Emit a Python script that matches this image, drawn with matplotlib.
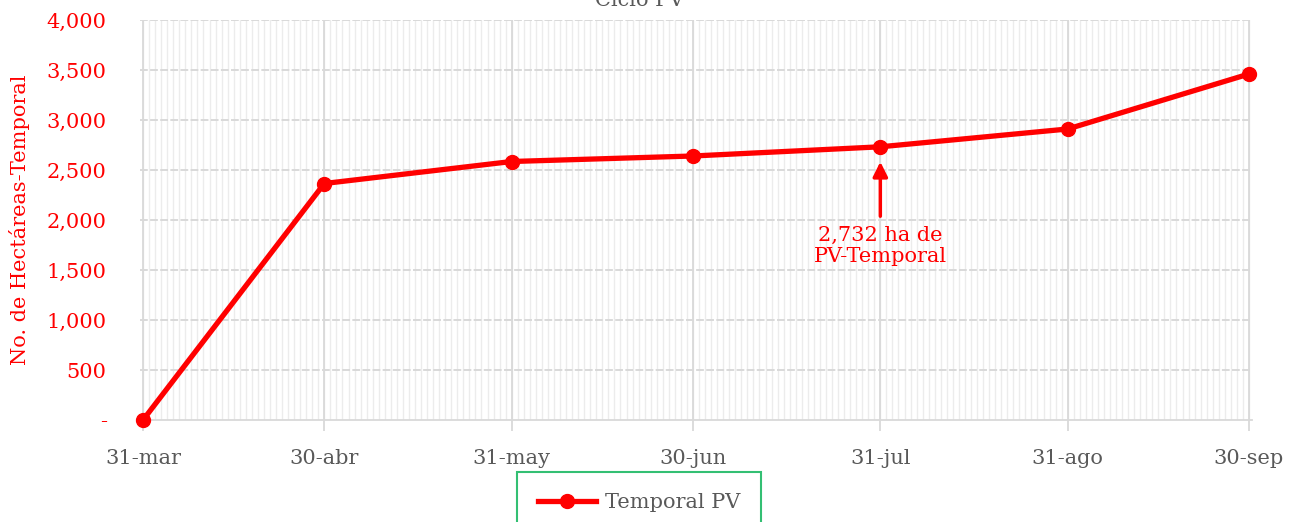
import matplotlib
matplotlib.use("Agg")
import matplotlib.pyplot as plt
import matplotlib.dates as mdates
import matplotlib.ticker as mticker
import numpy as np
import datetime as dt

plt.rcParams['font.family'] = ['DejaVu Serif']

# datos
fechas = ['2023-03-31', '2023-04-30', '2023-05-31', '2023-06-30',
          '2023-07-31', '2023-08-31', '2023-09-30']
etiquetas = ['31-mar', '30-abr', '31-may', '30-jun', '31-jul', '31-ago', '30-sep']
hectareas = [0, 2365, 2585, 2640, 2732, 2910, 3460]

x = [dt.datetime.strptime(f, '%Y-%m-%d') for f in fechas]
xn = mdates.date2num(x)

fig = plt.figure(figsize=(12.98, 5.22), dpi=100)
ax = fig.add_axes([140 / 1298, 102 / 522, 1112 / 1298, 400 / 522])

rojo = '#ff0000'
gris = '#595959'

# rejilla diaria
dias = np.arange(xn[0], xn[-1] + 1)
for d in dias:
    ax.axvline(d, color='#ececec', lw=1.0, zorder=0)
for d in xn:
    ax.axvline(d, color='#d9d9d9', lw=1.3, zorder=0.5)
for yv in range(500, 4001, 500):
    ax.axhline(yv, color='#d9d9d9', lw=1.4, ls=(0, (4, 1.2)), zorder=0.6)

ax.plot(xn, hectareas, color=rojo, lw=3.8, marker='o', markersize=10,
        label='Temporal PV', zorder=3, clip_on=False)

ax.set_xlim(xn[0] - 0.5, xn[-1] + 0.5)
ax.set_ylim(0, 4000)
ax.set_xticks(xn)
ax.set_xticklabels(etiquetas)
ax.set_yticks(range(0, 4001, 500))
ax.yaxis.set_major_formatter(mticker.FuncFormatter(
    lambda v, p: '-' if v == 0 else f'{int(v):,}'))

for s in ['top', 'right', 'left']:
    ax.spines[s].set_visible(False)
ax.spines['bottom'].set_color('#d9d9d9')
ax.spines['bottom'].set_linewidth(1.3)

ax.tick_params(axis='x', colors='#d9d9d9', length=8, width=1.3,
               labelcolor=gris, labelsize=15, pad=13)
ax.tick_params(axis='y', length=0, labelcolor=rojo, labelsize=15, pad=24)

ax.set_ylabel('No. de Hectáreas-Temporal', color=rojo, fontsize=15, labelpad=12)

fig.text(640 / 1298, 1.0, 'Ciclo PV', ha='center', va='center',
         fontsize=15, color=gris)

# anotación
ax.annotate('', xy=(xn[4], 2610), xytext=(xn[4], 2010),
            arrowprops=dict(arrowstyle='-|>', color=rojo, lw=2.5,
                            mutation_scale=22), zorder=4)
ax.text(xn[4], 1740, '2,732 ha de\nPV-Temporal', ha='center', va='center',
        color=rojo, fontsize=15, linespacing=1.15)

leg = ax.legend(loc='upper center', bbox_to_anchor=(499 / 1112, -0.13),
                frameon=True, fancybox=False, fontsize=15, borderaxespad=0,
                borderpad=1.0, handlelength=2.8, handletextpad=0.4)
leg.get_frame().set_edgecolor('#00b050')
leg.get_frame().set_linewidth(1.5)
for t in leg.get_texts():
    t.set_color(gris)

fig.savefig('out.png', dpi=100)
